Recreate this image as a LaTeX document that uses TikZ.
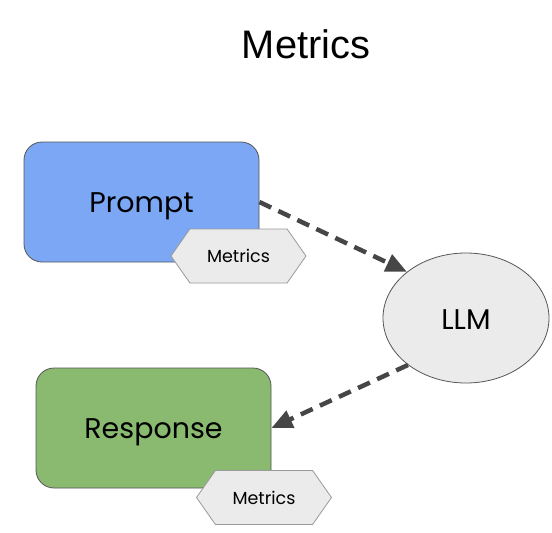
\documentclass[tikz,border=0pt]{standalone}
\usepackage{fontspec}
\setmainfont{Poppins}
\newfontfamily\titlefont{Liberation Sans}
\usetikzlibrary{shapes.geometric,shapes.symbols,arrows.meta}
\definecolor{promptblue}{RGB}{124,167,245}
\definecolor{respgreen}{RGB}{137,186,112}
\definecolor{lightgr}{RGB}{235,235,235}
\definecolor{edgegr}{RGB}{85,85,85}
\definecolor{arrowgr}{RGB}{70,70,70}
\tikzset{
  bigtext/.style={font=\fontsize{28.5}{32}\selectfont, text height=27pt, text depth=6pt},
  mainbox/.style={draw=edgegr, line width=0.8pt, rounded corners=18pt, minimum width=235pt, minimum height=120pt, bigtext, inner sep=0pt},
  metricstag/.style={signal, signal to=east and west, signal pointer angle=110, draw=gray!80, fill=lightgr, line width=0.8pt, minimum width=135pt, minimum height=54pt, inner sep=0pt, font=\fontsize{17.5}{20}\selectfont},
  flow/.style={draw=arrowgr, line width=4.5pt, dash pattern=on 13pt off 8pt, -{Triangle[length=21pt,width=18pt]}}
}
\begin{document}
\begin{tikzpicture}[x=1pt,y=-1pt]
\useasboundingbox (0,0) rectangle (552,533);
\node[font=\titlefont\fontsize{39.8}{44}\selectfont] (title) at (306,44) {Metrics};
\node[mainbox, fill=promptblue] (prompt) at (141.5,202) {Prompt};
\node[mainbox, fill=respgreen] (resp) at (153.5,428) {Response};
\node[ellipse, draw=edgegr, line width=0.8pt, fill=lightgr, minimum width=166pt, minimum height=130pt, inner sep=0pt, bigtext, text depth=0pt, text height=22pt] (llm) at (466,318) {LLM};
\node[metricstag] (m1) at (238.5,256) {Metrics};
\node[metricstag] (m2) at (264,497.5) {Metrics};
\draw[flow] (prompt.east) -- (llm.142);
\draw[flow] (llm.219) -- (resp.east);
\end{tikzpicture}
\end{document}
